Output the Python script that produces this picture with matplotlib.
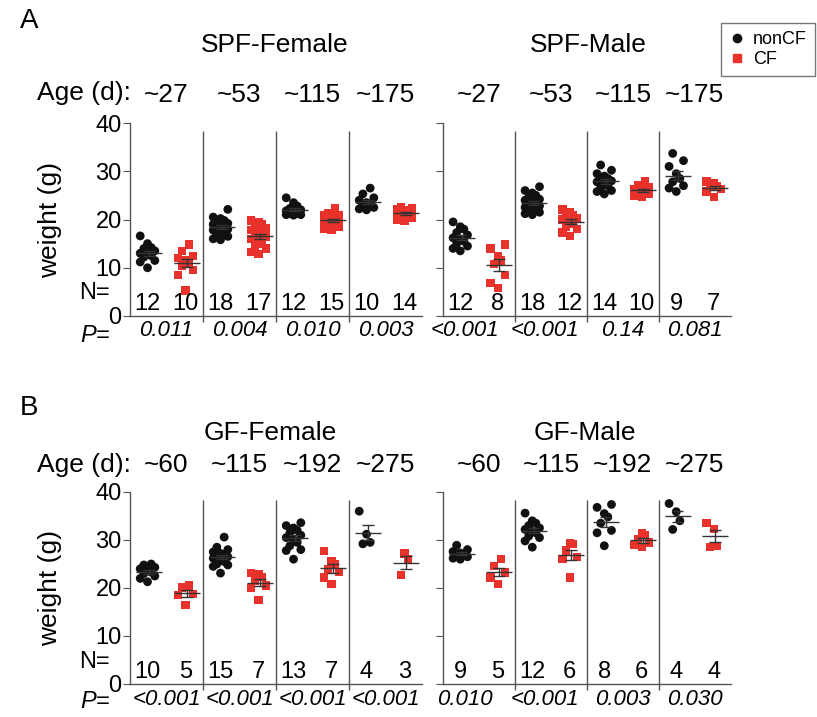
import numpy as np
import matplotlib
matplotlib.use("Agg")
import matplotlib.pyplot as plt
from matplotlib.lines import Line2D

plt.rcParams['font.family'] = ['Liberation Sans', 'DejaVu Sans']

# ---- data (weights in g) ----
spf_ages = ['~27', '~53', '~115', '~175']
gf_ages = ['~60', '~115', '~192', '~275']

spf_f_noncf = [
    [16.6, 15.0, 14.2, 14.0, 13.5, 13.0, 12.8, 12.5, 12.2, 11.5, 11.2, 10.0],
    [22.1, 20.5, 20.2, 19.8, 19.5, 19.2, 19.0, 18.8, 18.5, 18.3, 18.0, 17.8, 17.5, 17.2, 16.8, 16.5, 16.0, 15.8],
    [24.5, 23.5, 22.8, 22.3, 22.0, 21.8, 21.5, 21.3, 21.2, 21.0, 21.0, 20.9],
    [26.5, 25.3, 24.5, 24.0, 23.5, 23.2, 23.0, 22.5, 22.2, 22.0],
]
spf_f_cf = [
    [14.8, 13.5, 12.5, 12.0, 11.5, 11.0, 10.5, 9.5, 8.5, 5.3],
    [19.8, 19.5, 19.0, 18.5, 18.2, 17.8, 17.5, 17.0, 16.8, 16.5, 16.0, 15.5, 15.0, 14.5, 14.0, 13.3, 12.8],
    [22.3, 21.3, 21.0, 20.8, 20.5, 20.3, 20.0, 19.8, 19.5, 19.3, 19.0, 18.8, 18.5, 18.0, 17.8],
    [22.5, 22.4, 22.2, 22.0, 21.8, 21.6, 21.4, 21.2, 21.0, 20.8, 20.6, 20.3, 20.0, 19.8],
]
spf_m_noncf = [
    [19.5, 18.5, 18.0, 17.3, 16.8, 16.2, 15.8, 15.5, 15.0, 14.5, 14.0, 13.5],
    [26.8, 26.0, 25.5, 25.0, 24.5, 24.2, 24.0, 23.5, 23.2, 23.0, 22.8, 22.5, 22.2, 22.0, 21.8, 21.5, 21.2, 21.0],
    [31.3, 30.2, 29.5, 29.0, 28.5, 28.2, 28.0, 27.8, 27.3, 27.0, 26.5, 26.0, 25.8, 25.3],
    [33.7, 32.2, 31.0, 29.5, 28.5, 27.8, 27.0, 26.5, 25.8],
]
spf_m_cf = [
    [14.8, 14.0, 12.5, 11.5, 10.8, 8.5, 6.8, 5.8],
    [22.1, 21.5, 21.0, 20.5, 20.2, 20.0, 19.5, 19.0, 18.5, 18.0, 17.3, 16.6],
    [27.9, 27.2, 26.8, 26.3, 26.0, 25.8, 25.5, 25.3, 25.0, 24.8],
    [27.9, 27.6, 27.0, 26.7, 26.3, 25.8, 24.7],
]
gf_f_noncf = [
    [25.0, 24.8, 24.3, 24.0, 23.6, 23.3, 23.0, 22.5, 22.0, 21.3],
    [30.6, 28.5, 28.0, 27.5, 27.2, 27.0, 26.8, 26.5, 26.2, 26.0, 25.5, 25.0, 24.8, 24.5, 23.1],
    [33.6, 33.0, 32.5, 32.0, 31.5, 31.0, 30.5, 30.0, 29.5, 28.8, 28.0, 27.8, 26.0],
    [36.0, 31.2, 29.5, 29.2],
]
gf_f_cf = [
    [20.5, 20.1, 18.8, 18.5, 16.5],
    [23.1, 22.8, 22.3, 21.5, 20.5, 20.0, 17.5],
    [27.7, 25.6, 25.0, 24.0, 23.3, 22.2, 20.8],
    [27.2, 26.0, 22.7],
]
gf_m_noncf = [
    [28.9, 28.0, 27.6, 27.3, 27.0, 26.8, 26.5, 26.2, 26.0],
    [35.6, 34.0, 33.5, 33.0, 32.5, 32.2, 31.8, 31.5, 30.8, 30.5, 29.8, 28.5],
    [37.4, 36.8, 35.5, 34.8, 33.5, 32.0, 31.5, 28.8],
    [37.6, 35.9, 34.0, 32.2],
]
gf_m_cf = [
    [26.0, 24.6, 23.2, 22.2, 20.8],
    [29.4, 29.2, 27.8, 26.5, 26.0, 22.2],
    [31.5, 31.0, 30.2, 29.5, 29.0, 28.5],
    [33.6, 32.3, 28.8, 28.5],
]

spf_f_p = ['0.011', '0.004', '0.010', '0.003']
spf_m_p = ['<0.001', '<0.001', '0.14', '0.081']
gf_f_p = ['<0.001', '<0.001', '<0.001', '<0.001']
gf_m_p = ['0.010', '<0.001', '0.003', '0.030']

BLACK = '#111111'
RED = '#e8322b'
GRAY = '#555555'
W, H = 817, 717


def jitter(vals, width=0.1):
    # deterministic horizontal spread: neighbours in value go to alternating sides
    pattern = np.array([0.0, -1.0, 1.0, -0.5, 0.5])
    order = np.argsort(vals)
    offs = np.zeros(len(vals))
    if len(vals) <= 4:
        pattern = np.array([-0.5, 0.5, 0.0, -1.0])
    for rank, idx in enumerate(order):
        offs[idx] = pattern[rank % len(pattern)] * width
    return offs


def make_axes(x0, x1, y40, y0):
    return fig.add_axes([x0 / W, 1 - y0 / H, (x1 - x0) / W, (y0 - y40) / H])


def draw_panel(ax, noncf, cf, ages, pvals, ylabels, age_y, p_y, p_shift):
    ax.set_xlim(0, 4)
    ax.set_ylim(0, 40)
    for s in ('top', 'right'):
        ax.spines[s].set_visible(False)
    for s in ('left', 'bottom'):
        ax.spines[s].set_color(GRAY)
        ax.spines[s].set_linewidth(1)
    ax.set_xticks([])
    ax.set_yticks([0, 10, 20, 30, 40])
    ax.tick_params(axis='y', direction='out', length=5, color=GRAY, labelsize=17, pad=1)
    if not ylabels:
        ax.set_yticklabels([])
    ax.vlines([1, 2, 3], -1.2, 38.4, color=GRAY, lw=1, clip_on=False)

    for i in range(4):
        for vals, pos, col, mk, sz in ((noncf[i], i + 0.24, BLACK, 'o', 40),
                                       (cf[i], i + 0.76, RED, 's', 36)):
            v = np.array(vals)
            n = len(v)
            ax.scatter(pos + jitter(v), v, s=sz, marker=mk, color=col,
                       edgecolors='none', zorder=3, clip_on=False)
            m = v.mean()
            se = v.std(ddof=1) / np.sqrt(n)
            ax.hlines(m, pos - 0.16, pos + 0.2, color='#333333', lw=1, zorder=4)
            ax.vlines(pos + 0.02, m - se, m + se, color='#333333', lw=1, zorder=4)
            ax.hlines([m - se, m + se], pos - 0.06, pos + 0.1, color='#333333', lw=1, zorder=4)
            ax.text(pos, 2.4, str(n), ha='center', va='center', fontsize=17)
        ax.text(i + 0.5 + p_shift[i], p_y, pvals[i], ha='center', va='center', fontsize=16,
                style='italic', clip_on=False)
        ax.text(i + 0.5, age_y, ages[i], ha='center', va='center', fontsize=19,
                clip_on=False)


fig = plt.figure(figsize=(W / 100, H / 100), dpi=100)

no_shift = [0, 0, 0, 0]
male_shift = [-0.2, -0.08, 0, 0]

# panel A
ax_a1 = make_axes(130, 422, 123, 316)
ax_a2 = make_axes(443, 731, 123, 316)
draw_panel(ax_a1, spf_f_noncf, spf_f_cf, spf_ages, spf_f_p, True, 45.8, -3.1, no_shift)
draw_panel(ax_a2, spf_m_noncf, spf_m_cf, spf_ages, spf_m_p, False, 45.8, -3.1, male_shift)

# panel B
ax_b1 = make_axes(130, 422, 492, 684)
ax_b2 = make_axes(443, 731, 492, 684)
draw_panel(ax_b1, gf_f_noncf, gf_f_cf, gf_ages, gf_f_p, True, 45.6, -3.3, no_shift)
draw_panel(ax_b2, gf_m_noncf, gf_m_cf, gf_ages, gf_m_p, False, 45.6, -3.3, male_shift)


def ftext(x, y, s, **kw):
    fig.text(x / W, 1 - y / H, s, **kw)


ftext(20, 21, 'A', fontsize=20, ha='left', va='center')
ftext(20, 408, 'B', fontsize=20, ha='left', va='center')
ftext(275, 45, 'SPF-Female', fontsize=19, ha='center', va='center')
ftext(588, 45, 'SPF-Male', fontsize=19, ha='center', va='center')
ftext(270, 433, 'GF-Female', fontsize=19, ha='center', va='center')
ftext(585, 433, 'GF-Male', fontsize=19, ha='center', va='center')
for yy in (93, 465):
    ftext(37, yy, 'Age (d):', fontsize=19, ha='left', va='center')
for yy in (220, 588):
    ftext(50, yy, 'weight (g)', fontsize=19, ha='center', va='center', rotation=90)
for yy in (293, 662):
    ftext(94, yy, 'N=', fontsize=17, ha='center', va='center')
for yy in (335, 702):
    ftext(95, yy, 'P=', fontsize=17, ha='center', va='center', style='italic')

# legend box in the top right corner
handles = [
    Line2D([], [], ls='none', marker='o', color=BLACK, markersize=6, label='nonCF'),
    Line2D([], [], ls='none', marker='s', color=RED, markersize=6, label='CF'),
]
leg = fig.legend(handles=handles, loc='upper right', bbox_to_anchor=(815 / W, 1 - 23 / H),
                 borderaxespad=0, fontsize=13, frameon=True, fancybox=False, edgecolor=GRAY,
                 handlelength=0.8, handletextpad=0.5, labelspacing=0.15, borderpad=0.45)
leg.get_frame().set_linewidth(1)

fig.savefig('out.png', dpi=100)
